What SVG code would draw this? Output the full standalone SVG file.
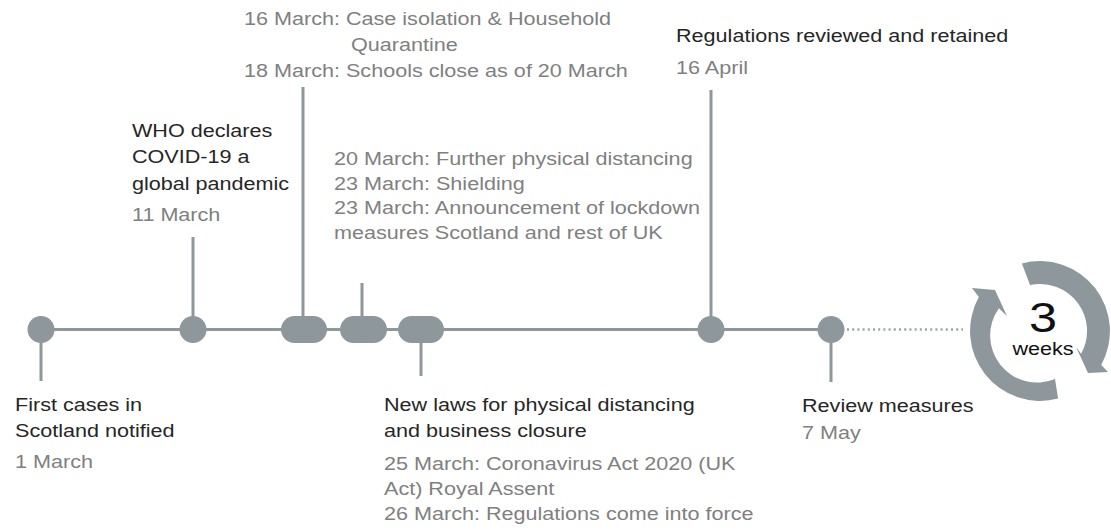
<svg xmlns="http://www.w3.org/2000/svg" width="1111" height="531" viewBox="0 0 1111 531">
<style>
text{font-family:"Liberation Sans",Arial,sans-serif;font-size:17.5px}
.d{fill:#262626}
.g{fill:#808080}
.shape{fill:#8E979C}
.stem{stroke:#8E979C;stroke-width:3;fill:none}
.tl{stroke:#8E979C;stroke-width:3;fill:none}
.dot{stroke:#9AA2A7;stroke-width:2.5;stroke-dasharray:2 3.2;fill:none}
</style>
<rect width="1111" height="531" fill="#ffffff"/>
<g id="connectors">
<line class="tl" x1="41" y1="329.5" x2="831" y2="329.5"/>
<line class="dot" x1="847" y1="329.5" x2="963" y2="329.5"/>
</g>
<g id="node-first-cases">
<line class="stem" x1="41" y1="330" x2="41" y2="381"/>
<circle class="shape" cx="41" cy="329.5" r="13.5"/>
<text class="d" transform="translate(15 411) scale(1.234 1)">First cases in</text>
<text class="d" transform="translate(15 437) scale(1.234 1)">Scotland notified</text>
<text class="g" transform="translate(15 468) scale(1.234 1)">1 March</text>
</g>
<g id="node-who">
<line class="stem" x1="193" y1="237" x2="193" y2="330"/>
<circle class="shape" cx="193" cy="329.5" r="13.5"/>
<text class="d" transform="translate(132 137) scale(1.234 1)">WHO declares</text>
<text class="d" transform="translate(132 163) scale(1.234 1)">COVID-19 a</text>
<text class="d" transform="translate(132 190) scale(1.234 1)">global pandemic</text>
<text class="g" transform="translate(132 221) scale(1.234 1)">11 March</text>
</g>
<g id="node-16-18-march">
<line class="stem" x1="303" y1="87" x2="303" y2="330"/>
<rect class="shape" x="281" y="316" width="46" height="27" rx="13.5"/>
<text class="g" transform="translate(244 25) scale(1.234 1)">16 March: Case isolation &amp; Household</text>
<text class="g" transform="translate(351 51) scale(1.234 1)">Quarantine</text>
<text class="g" transform="translate(244 77) scale(1.234 1)">18 March: Schools close as of 20 March</text>
</g>
<g id="node-20-23-march">
<line class="stem" x1="362" y1="283" x2="362" y2="330"/>
<rect class="shape" x="340" y="316" width="47" height="27" rx="13.5"/>
<text class="g" transform="translate(334 165) scale(1.234 1)">20 March: Further physical distancing</text>
<text class="g" transform="translate(334 190) scale(1.234 1)">23 March: Shielding</text>
<text class="g" transform="translate(334 214) scale(1.234 1)">23 March: Announcement of lockdown</text>
<text class="g" transform="translate(334 239) scale(1.234 1)">measures Scotland and rest of UK</text>
</g>
<g id="node-new-laws">
<line class="stem" x1="421" y1="330" x2="421" y2="376"/>
<rect class="shape" x="398" y="316" width="46" height="27" rx="13.5"/>
<text class="d" transform="translate(384 411) scale(1.234 1)">New laws for physical distancing</text>
<text class="d" transform="translate(384 437) scale(1.234 1)">and business closure</text>
<text class="g" transform="translate(384 470) scale(1.234 1)">25 March: Coronavirus Act 2020 (UK</text>
<text class="g" transform="translate(384 495) scale(1.234 1)">Act) Royal Assent</text>
<text class="g" transform="translate(384 520) scale(1.234 1)">26 March: Regulations come into force</text>
</g>
<g id="node-16-april">
<line class="stem" x1="711" y1="90" x2="711" y2="330"/>
<circle class="shape" cx="711" cy="329.5" r="13.5"/>
<text class="d" transform="translate(676 42) scale(1.234 1)">Regulations reviewed and retained</text>
<text class="g" transform="translate(676 74) scale(1.234 1)">16 April</text>
</g>
<g id="node-review">
<line class="stem" x1="831" y1="330" x2="831" y2="382"/>
<circle class="shape" cx="831" cy="329.5" r="13.5"/>
<text class="d" transform="translate(802 412) scale(1.234 1)">Review measures</text>
<text class="g" transform="translate(802 439) scale(1.234 1)">7 May</text>
</g>
<g id="node-cycle">
<path class="shape" d="M1058.1 398.6 A70 70 0 0 1 978.8 297.1 L972 288 L995 290 L1007.0 316 L998.9 308.2 A47 47 0 0 0 1055 379 Z"/>
<path class="shape" d="M1021.9 263.4 A70 70 0 0 1 1101.2 364.9 L1108 372 L1088 373 L1076 347 L1081.1 353.8 A47 47 0 0 0 1030 285 Z"/>
<text fill="#111111" text-anchor="middle" style="font-size:42px" transform="translate(1043 332) scale(1.2 1)">3</text>
<text fill="#111111" text-anchor="middle" transform="translate(1043 355) scale(1.234 1)">weeks</text>
</g>
</svg>
